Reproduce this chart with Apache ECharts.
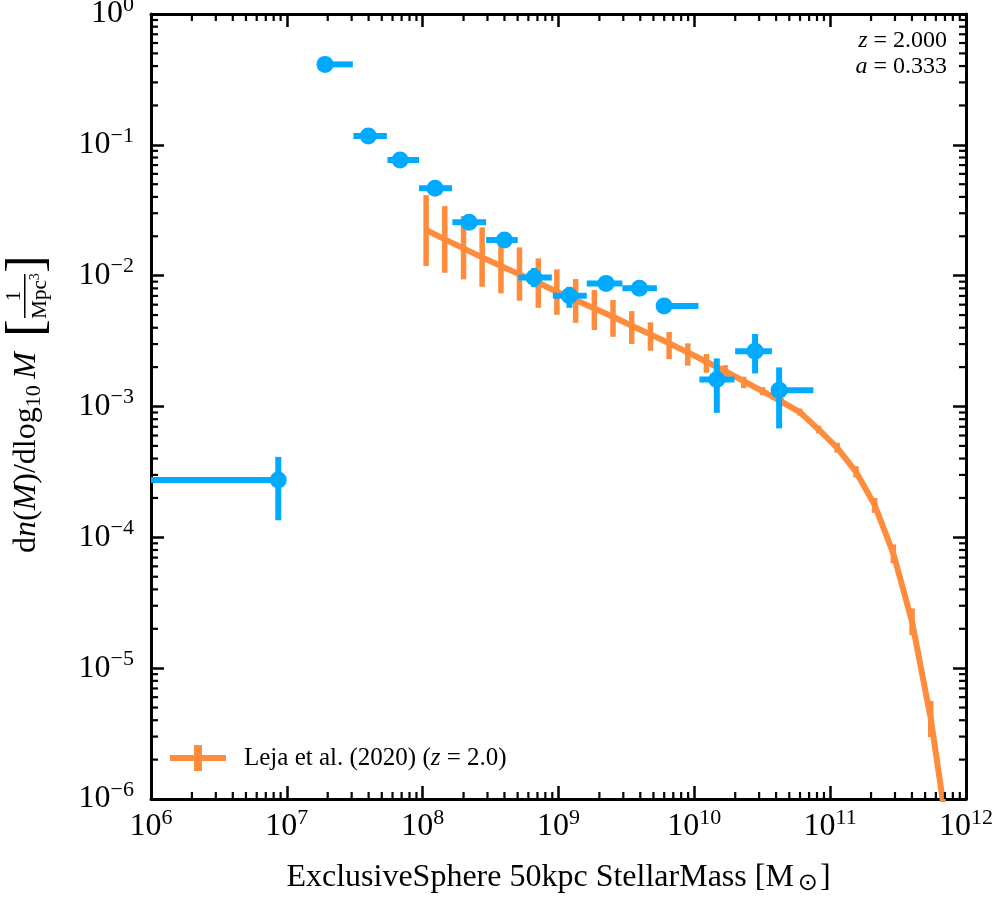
<!DOCTYPE html>
<html>
<head>
<meta charset="utf-8">
<script src="https://cdn.jsdelivr.net/npm/echarts@6/dist/echarts.min.js"></script>
<style>
  html, body { margin: 0; padding: 0; background: #fff; }
  #chart { width: 996px; height: 900px; }
</style>
</head>
<body>
<div id="chart"></div>
<script>
// simulation stellar mass function (blue points)
const simMass   = [8.65e6, 1.91e7, 3.98e7, 6.82e7, 1.234e8, 2.196e8, 4.0e8, 6.61e8, 1.203e9, 2.24e9, 3.94e9, 5.99e9, 1.464e10, 2.80e10, 4.21e10]
const simMassLo = [1e6, 1.91e7, 3.09e7, 5.5e7, 9.4e7, 1.655e8, 2.93e8, 5.07e8, 9.08e8, 1.614e9, 2.955e9, 5.99e9, 1.09e10, 1.997e10, 3.72e10]
const simMassHi = [8.65e6, 3.06e7, 5.45e7, 9.4e7, 1.647e8, 2.93e8, 5.01e8, 8.93e8, 1.614e9, 2.955e9, 5.30e9, 1.072e10, 1.974e10, 3.72e10, 7.53e10]
const simPhi    = [2.74e-4, 0.412, 0.1168, 0.0765, 0.0465, 0.02556, 0.01872, 0.0097, 0.00702, 0.00873, 0.0080, 0.00586, 1.61e-3, 2.65e-3, 1.334e-3]
const simPhiLo  = [1.35e-4, 0.40, 0.112, 0.073, 0.044, 0.0245, 0.0180, 0.00818, 0.00568, 0.0081, 0.0076, 0.0056, 8.95e-4, 1.79e-3, 6.8e-4]
const simPhiHi  = [4.12e-4, 0.42, 0.121, 0.080, 0.049, 0.0267, 0.0195, 0.01143, 0.00822, 0.0094, 0.0084, 0.0061, 2.33e-3, 3.58e-3, 1.99e-3]

// Leja et al. (2020), z = 2.0 (orange line)
const lejaMass  = [1.06e8, 1.455e8, 2.0e8, 2.74e8, 3.77e8, 5.16e8, 7.10e8, 9.73e8, 1.337e9, 1.837e9, 2.52e9, 3.46e9, 4.75e9, 6.52e9, 8.95e9, 1.227e10, 1.687e10, 2.31e10, 3.18e10, 4.37e10, 5.98e10, 8.22e10, 1.127e11, 1.549e11, 2.128e11, 2.917e11, 4.01e11, 5.50e11, 7.55e11]
const lejaPhi   = [0.02232, 0.01895, 0.01617, 0.01380, 0.01184, 0.01023, 0.00882, 0.00753, 0.00651, 0.00562, 0.00485, 0.00414, 0.00356, 0.00304, 0.00259, 0.00220, 0.00186, 0.00156, 0.00131, 0.00109, 9.06e-4, 6.68e-4, 4.83e-4, 3.17e-4, 1.763e-4, 7.53e-5, 2.26e-5, 4.12e-6, 4.43e-7]
const lejaPhiLo = [0.01184, 0.01053, 0.00937, 0.00823, 0.00732, 0.00643, 0.00568, 0.00502, 0.00436, 0.00384, 0.00341, 0.00300, 0.00267, 0.00230, 0.00205, 0.00181, 0.00161, 0.00138, 0.00122, 0.00101, 8.52e-4, 6.23e-4, 4.43e-4, 2.87e-4, 1.539e-4, 6.32e-5, 1.788e-5, 2.98e-6, null]
const lejaPhiHi = [0.0413, 0.0340, 0.02855, 0.02340, 0.02009, 0.01646, 0.01356, 0.01117, 0.00942, 0.00776, 0.00651, 0.00536, 0.00440, 0.00371, 0.00304, 0.00252, 0.00207, 0.00169, 0.00141, 0.00116, 9.64e-4, 7.12e-4, 5.28e-4, 3.50e-4, 2.00e-4, 8.82e-5, 2.86e-5, 5.62e-6, null]

// axes
const xMin = 1e6, xMax = 1e12
const yMin = 1e-6, yMax = 1
const xDecades = [1e6, 1e7, 1e8, 1e9, 1e10, 1e11]
const yDecades = [1e-6, 1e-5, 1e-4, 1e-3, 1e-2, 1e-1]
const minorSteps = [2, 3, 4, 5, 6, 7, 8, 9]

const BLUE = '#00aaff'
const ORANGE = '#ff8c3c'
const FONT = '"Liberation Serif", "DejaVu Serif", serif'

const minorX = []
xDecades.forEach(d => minorSteps.forEach(k => minorX.push([k * d, yMin])))
const minorY = []
yDecades.forEach(d => minorSteps.forEach(k => minorY.push([xMin, k * d])))

const expLabel = v => {
  const e = Math.round(Math.log10(v))
  return '{b|10}{s|' + String(e).replace('-', '\u2212') + '}'
}
const labelRich = {
  b: { fontSize: 32, fontFamily: FONT, color: '#000' },
  s: { fontSize: 22, fontFamily: FONT, color: '#000', padding: [0, 0, 18, 0] }
}

const chart = echarts.init(document.getElementById('chart'))

const tickStyle = { inside: true, length: 13, lineStyle: { color: '#000', width: 2.5 } }
const lineStyleAxis = { show: true, lineStyle: { color: '#000', width: 3 } }

function renderMinorX(params, api) {
  const x = api.value(0)
  const b = api.coord([x, yMin])
  const t = api.coord([x, yMax])
  const st = { stroke: '#000', lineWidth: 2.2 }
  return { type: 'group', children: [
    { type: 'line', shape: { x1: b[0], y1: b[1], x2: b[0], y2: b[1] - 7 }, style: st },
    { type: 'line', shape: { x1: t[0], y1: t[1], x2: t[0], y2: t[1] + 7 }, style: st }
  ] }
}

function renderMinorY(params, api) {
  const y = api.value(1)
  const l = api.coord([xMin, y])
  const r = api.coord([xMax, y])
  const st = { stroke: '#000', lineWidth: 2.2 }
  return { type: 'group', children: [
    { type: 'line', shape: { x1: l[0], y1: l[1], x2: l[0] + 7, y2: l[1] }, style: st },
    { type: 'line', shape: { x1: r[0], y1: r[1], x2: r[0] - 7, y2: r[1] }, style: st }
  ] }
}

function renderLejaErr(params, api) {
  const x = api.value(0)
  const lo = api.coord([x, api.value(1)])
  const hi = api.coord([x, api.value(2)])
  return { type: 'line', shape: { x1: lo[0], y1: lo[1], x2: hi[0], y2: hi[1] },
    style: { stroke: ORANGE, lineWidth: 5.5 } }
}

function renderSim(params, api) {
  const x = api.value(0), y = api.value(1)
  const c = api.coord([x, y])
  const l = api.coord([api.value(2), y])
  const r = api.coord([api.value(3), y])
  const b = api.coord([x, api.value(4)])
  const t = api.coord([x, api.value(5)])
  const st = { stroke: BLUE, lineWidth: 6 }
  return { type: 'group', children: [
    { type: 'line', shape: { x1: l[0], y1: c[1], x2: r[0], y2: c[1] }, style: st },
    { type: 'line', shape: { x1: c[0], y1: b[1], x2: c[0], y2: t[1] }, style: st },
    { type: 'circle', shape: { cx: c[0], cy: c[1], r: 8.5 }, style: { fill: BLUE } }
  ] }
}

const lejaName = 'Leja et al. (2020) (z = 2.0)'

const option = {
  animation: false,
  backgroundColor: '#fff',
  grid: { left: 151, right: 30, top: 14, bottom: 101, outerBoundsMode: 'none', containLabel: false },
  xAxis: [
    {
      type: 'log', logBase: 10, min: xMin, max: xMax, splitNumber: 6,
      axisLine: lineStyleAxis, axisTick: tickStyle, splitLine: { show: false },
      axisLabel: { formatter: expLabel, rich: labelRich, margin: 8 },
      name: 'ExclusiveSphere 50kpc StellarMass [M{o|\u2299}]',
      nameLocation: 'middle', nameGap: 61,
      nameTextStyle: { fontSize: 32, fontFamily: FONT, color: '#000',
        rich: { o: { fontSize: 24, fontFamily: '"DejaVu Sans", sans-serif', color: '#000', padding: [12, 2, 0, 4] } } }
    },
    {
      type: 'log', logBase: 10, min: xMin, max: xMax, splitNumber: 6, position: 'top',
      axisLine: lineStyleAxis, axisTick: tickStyle, splitLine: { show: false },
      axisLabel: { show: false }
    }
  ],
  yAxis: [
    {
      type: 'log', logBase: 10, min: yMin, max: yMax, splitNumber: 6,
      axisLine: lineStyleAxis, axisTick: tickStyle, splitLine: { show: false },
      axisLabel: { formatter: expLabel, rich: labelRich, margin: 17 }
    },
    {
      type: 'log', logBase: 10, min: yMin, max: yMax, splitNumber: 6, position: 'right',
      axisLine: lineStyleAxis, axisTick: tickStyle, splitLine: { show: false },
      axisLabel: { show: false }
    }
  ],
  legend: {
    left: 170, top: 745, padding: 0, orient: 'vertical',
    itemWidth: 56, itemHeight: 26,
    data: [{ name: lejaName, icon: 'path://M0,10h56v6h-56z M24,0h8v26h-8z' }],
    itemStyle: { color: ORANGE, borderWidth: 0 },
    lineStyle: { width: 0 },
    formatter: () => 'Leja et al. (2020) ({i|z} = 2.0)',
    textStyle: { fontSize: 25, fontFamily: FONT, color: '#000', padding: [0, 0, 0, 13],
      rich: { i: { fontSize: 25, fontFamily: FONT, fontStyle: 'italic', color: '#000' } } }
  },
  graphic: [
    {
      type: 'group', x: 27, y: 406, rotation: Math.PI / 2, silent: true,
      children: [
        { type: 'text', x: -147, y: 0, style: {
          text: 'd{i|n}({i|M})/dlog{sub|10}\u2009{i|M}', fontSize: 32, fontFamily: FONT, fill: '#000',
          align: 'left', verticalAlign: 'middle',
          rich: {
            i: { fontSize: 32, fontFamily: FONT, fontStyle: 'italic' },
            sub: { fontSize: 22, fontFamily: FONT, padding: [14, 0, 0, 0] }
          } } },
        { type: 'text', x: 78, y: 1, style: { text: '[', fontSize: 52, fontFamily: FONT, fill: '#000', align: 'center', verticalAlign: 'middle' } },
        { type: 'text', x: 142, y: 1, style: { text: ']', fontSize: 52, fontFamily: FONT, fill: '#000', align: 'center', verticalAlign: 'middle' } },
        { type: 'text', x: 110, y: -13, style: { text: '1', fontSize: 21, fontFamily: FONT, fill: '#000', align: 'center', verticalAlign: 'middle' } },
        { type: 'rect', shape: { x: 88, y: -3, width: 44, height: 1.5 }, style: { fill: '#000' } },
        { type: 'text', x: 110, y: 13, style: {
          text: 'Mpc{s|3}', fontSize: 21, fontFamily: FONT, fill: '#000', align: 'center', verticalAlign: 'middle',
          rich: { s: { fontSize: 14, fontFamily: FONT, padding: [0, 0, 10, 0] } } } }
      ]
    },
    { type: 'text', x: 947, y: 41, silent: true, style: {
      text: '{i|z} = 2.000', fontSize: 24, fontFamily: FONT, fill: '#000', align: 'right', verticalAlign: 'middle',
      rich: { i: { fontSize: 24, fontFamily: FONT, fontStyle: 'italic' } } } },
    { type: 'text', x: 947, y: 67, silent: true, style: {
      text: '{i|a} = 0.333', fontSize: 24, fontFamily: FONT, fill: '#000', align: 'right', verticalAlign: 'middle',
      rich: { i: { fontSize: 24, fontFamily: FONT, fontStyle: 'italic' } } } }
  ],
  series: [
    {
      type: 'custom', name: 'minorX', silent: true, renderItem: renderMinorX, data: minorX, z: 10
    },
    {
      type: 'custom', name: 'minorY', silent: true, renderItem: renderMinorY, data: minorY, z: 10
    },
    {
      type: 'line', name: lejaName, data: lejaMass.map((m, i) => [m, lejaPhi[i]]),
      showSymbol: false, symbol: 'none', clip: true, color: ORANGE,
      lineStyle: { color: ORANGE, width: 6 }, z: 2
    },
    {
      type: 'custom', name: 'lejaErr', renderItem: renderLejaErr, clip: true, z: 2,
      data: lejaMass.map((m, i) => [m, lejaPhiLo[i], lejaPhiHi[i]]).filter(d => d[1] != null)
    },
    {
      type: 'custom', name: 'sim', renderItem: renderSim, clip: true, z: 3,
      data: simMass.map((m, i) => [m, simPhi[i], simMassLo[i], simMassHi[i], simPhiLo[i], simPhiHi[i]])
    }
  ]
}

chart.setOption(option)
</script>
</body>
</html>
